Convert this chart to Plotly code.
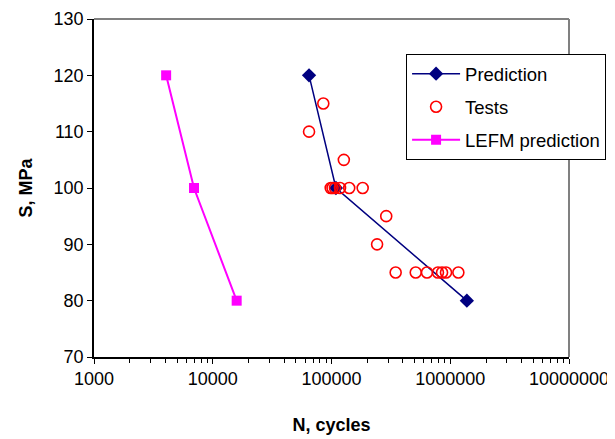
import plotly.graph_objects as go

# Data
pred_n = [64700, 109000, 1380000]
pred_s = [120, 100, 80]

tests_n = [85300, 64700, 127000,
           98500, 102000, 107000, 118000, 141000, 183000,
           289000, 242000,
           347000, 512000, 637000, 788000, 853000, 921000, 1170000]
tests_s = [115, 110, 105,
           100, 100, 100, 100, 100, 100,
           95, 90,
           85, 85, 85, 85, 85, 85, 85]

lefm_n = [4050, 6950, 15900]
lefm_s = [120, 100, 80]

x_ticks = [1000, 10000, 100000, 1000000, 10000000]
x_ticktext = ["1000", "10000", "100000", "1000000", "10000000"]
y_ticks = [70, 80, 90, 100, 110, 120, 130]

minor_vals = [m * d for d in (1000, 10000, 100000, 1000000) for m in range(2, 10)]

FONT = "Arial, 'Liberation Sans', sans-serif"

fig = go.Figure()
fig.add_trace(go.Scatter(
    x=pred_n, y=pred_s, name="Prediction", mode="lines+markers",
    line=dict(color="#000080", width=1.5),
    marker=dict(symbol="diamond", size=11, color="#000080"),
    legendgroup="a"))
fig.add_trace(go.Scatter(
    x=tests_n, y=tests_s, name="Tests", mode="markers",
    marker=dict(symbol="circle-open", size=11, color="#FF0000", line=dict(width=1.6)),
    legendgroup="b"))
fig.add_trace(go.Scatter(
    x=lefm_n, y=lefm_s, name="LEFM prediction", mode="lines+markers",
    line=dict(color="#FF00FF", width=2),
    marker=dict(symbol="square", size=10, color="#FF00FF"),
    legendgroup="c"))

fig.update_layout(
    width=615, height=439,
    margin=dict(l=86, r=54, t=11, b=90, autoexpand=False),
    paper_bgcolor="white", plot_bgcolor="white",
    font=dict(family=FONT, size=18, color="black"),
    showlegend=True,
    legend=dict(x=0.657, y=0.896, xanchor="left", yanchor="top",
                bgcolor="white", bordercolor="black", borderwidth=1,
                font=dict(size=18.5, family=FONT), tracegroupgap=6,
                itemwidth=48),
    xaxis=dict(type="log", range=[3, 7], tickvals=x_ticks, ticktext=x_ticktext,
               ticks="outside", ticklen=5, tickcolor="black",
               showline=True, linecolor="black", linewidth=1.5,
               showgrid=False, zeroline=False, automargin=False,
               minor=dict(tickvals=minor_vals, ticks="outside", ticklen=4,
                          tickcolor="black", showgrid=False),
               title=dict(text="<b>N, cycles</b>", standoff=30,
                          font=dict(size=18, family=FONT))),
    yaxis=dict(range=[70, 130], tickvals=y_ticks,
               ticks="outside", ticklen=5, tickcolor="black",
               showline=True, linecolor="black", linewidth=1.5,
               showgrid=False, zeroline=False, automargin=False,
               title=dict(text="<b>S, MPa</b>", standoff=16,
                          font=dict(size=18, family=FONT))),
    shapes=[
        dict(type="line", xref="paper", yref="paper", x0=0, x1=1, y0=1, y1=1,
             line=dict(color="#808080", width=2)),
        dict(type="line", xref="paper", yref="paper", x0=1, x1=1, y0=0, y1=1,
             line=dict(color="#808080", width=2)),
    ],
)

fig.write_html("out.html")
